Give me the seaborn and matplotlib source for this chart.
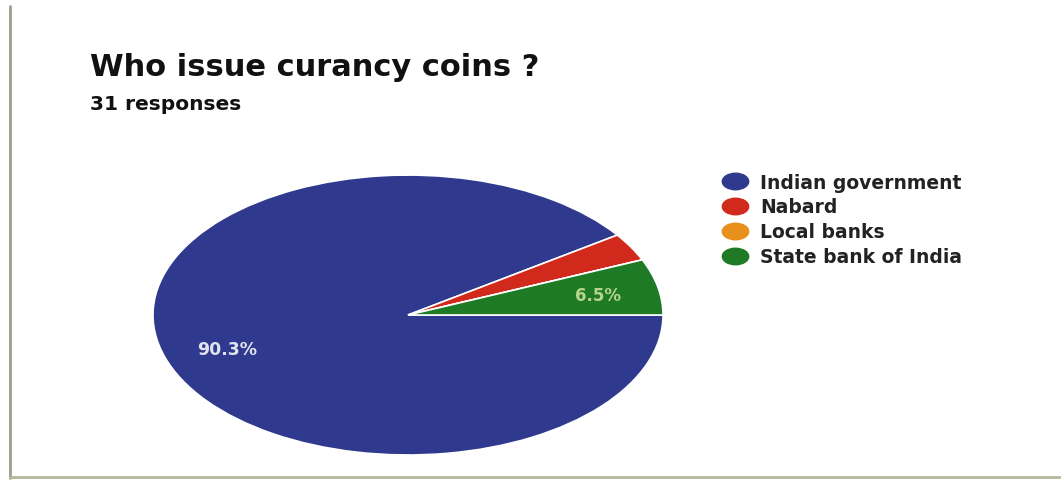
import matplotlib
matplotlib.use("Agg")
import matplotlib.pyplot as plt
import seaborn as sns
from matplotlib.lines import Line2D
from matplotlib.path import Path
from matplotlib.transforms import Affine2D

sns.set_theme(style="white")
plt.rcParams['font.family'] = ['DejaVu Sans']

# data (31 responses)
labels = ["Indian government", "Nabard", "Local banks", "State bank of India"]
counts = [28, 1, 0, 2]
colors = ["#2f3a8f", "#d12a1c", "#e8901c", "#1e7a24"]

total = sum(counts)

fig = plt.figure(figsize=(10.61, 4.81), dpi=100)
fig.patch.set_facecolor("white")

# pie axes (stretched horizontally like the scan)
ax = fig.add_axes([0.1442, 0.052, 0.4807, 0.582])
wedges, _ = ax.pie(counts, colors=colors, startangle=0, counterclock=False,
                   radius=1.0, wedgeprops=dict(edgecolor="white", linewidth=1.2))
ax.set_aspect("auto")
ax.set_xlim(-1, 1)
ax.set_ylim(-1, 1)
ax.axis("off")

# percentage labels
pct_blue = counts[0] / total * 100
pct_green = counts[3] / total * 100
ax.text(-0.71, -0.24, f"{pct_blue:.1f}%", color="#dfe3ee", fontsize=12.5,
        fontweight="bold", ha="center", va="center")
ax.text(0.745, 0.14, f"{pct_green:.1f}%", color="#b9d48c", fontsize=12,
        fontweight="bold", ha="center", va="center")

# title
fig.text(0.085, 0.843, "Who issue curancy coins ?", fontsize=22,
         fontweight="bold", color="#111111", ha="left", va="baseline")
fig.text(0.085, 0.772, "31 responses", fontsize=14.5,
         fontweight="bold", color="#111111", ha="left", va="baseline")

# legend with wide oval markers
oval = Path.unit_circle().transformed(Affine2D().scale(1.6, 1.0))
handles = [Line2D([0], [0], marker=oval, linestyle="", markersize=19,
                  markerfacecolor=c, markeredgecolor=c) for c in colors]
leg = fig.legend(handles, labels, loc="upper left",
                 bbox_to_anchor=(0.665, 0.674), frameon=False,
                 prop=dict(size=13.5, weight="bold"), handlelength=1.3,
                 handletextpad=0.7, labelspacing=0.31, labelcolor="#222222")

# card border lines (left and bottom)
fig.add_artist(Line2D([0.009, 0.009], [0.005, 0.985], color="#9a9f8a", linewidth=2))
fig.add_artist(Line2D([0.009, 1.0], [0.006, 0.006], color="#b3b89a", linewidth=2))

fig.savefig("out.png", dpi=100, facecolor="white")
